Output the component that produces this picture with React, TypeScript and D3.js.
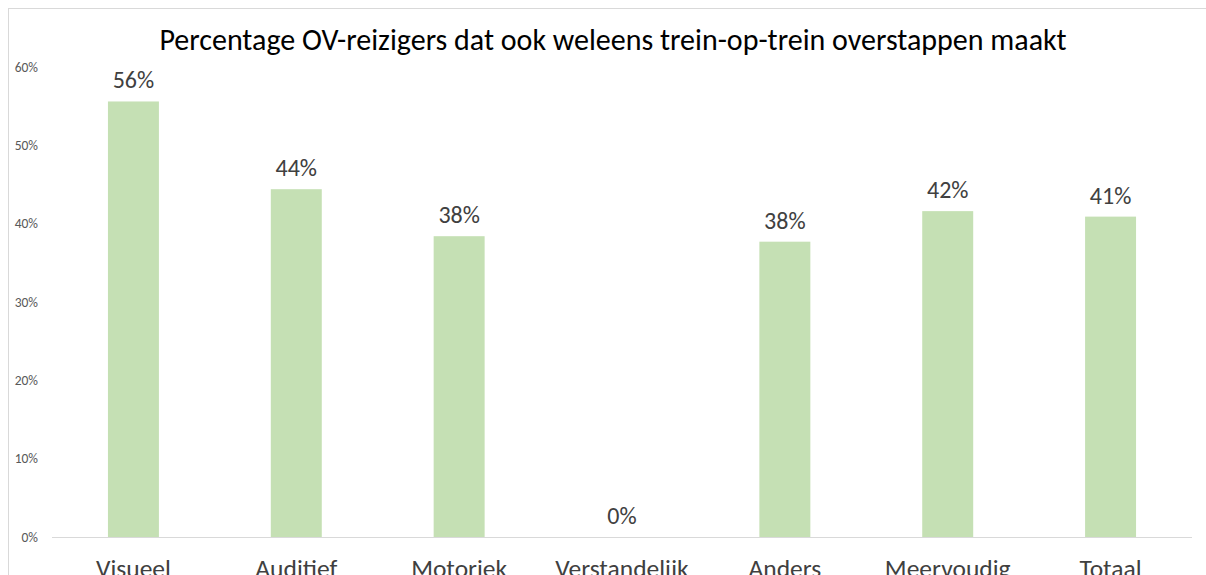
import React from "react";
import * as d3 from "d3";

const categories = ["Visueel", "Auditief", "Motoriek", "Verstandelijk", "Anders", "Meervoudig", "Totaal"];
const values = [55.6, 44.4, 38.4, 0, 37.7, 41.6, 40.9];
const labels = ["56%", "44%", "38%", "0%", "38%", "42%", "41%"];
const yTicks = [0, 10, 20, 30, 40, 50, 60];
const title = "Percentage OV-reizigers dat ook weleens trein-op-trein overstappen maakt";

export default function App() {
  const W = 1206, H = 575;
  const left = 52, right = 1192, top = 67, bottom = 537;
  const x = d3.scaleBand<string>().domain(categories).range([left, right]).paddingInner(0.687).paddingOuter(0.3435);
  const y = d3.scaleLinear().domain([0, 60]).range([bottom, top]);
  const font = "Carlito, Calibri, 'Liberation Sans', sans-serif";
  return (
    <svg width={W} height={H} style={{ position: "absolute", left: 0, top: 0, background: "#fff" }} fontFamily={font}>
      <rect x={8.5} y={8.5} width={1300} height={700} fill="#fff" stroke="#d9d9d9" strokeWidth={1} />
      <text x={613} y={50} textAnchor="middle" fontSize={30} fill="#000">{title}</text>
      {yTicks.map(t => (
        <text key={t} x={38} y={y(t) + 4.5} textAnchor="end" fontSize={13.5} fill="#595959">{t}%</text>
      ))}
      {categories.map((c, i) => (
        <g key={c}>
          <rect x={x(c)} y={y(values[i])} width={x.bandwidth()} height={bottom - y(values[i])} fill="#C5E0B4" />
          <text x={x(c)! + x.bandwidth() / 2} y={y(values[i]) - 13} textAnchor="middle" fontSize={24} fill="#404040">{labels[i]}</text>
          <text x={x(c)! + x.bandwidth() / 2} y={577} textAnchor="middle" fontSize={25.5} fill="#404040">{c}</text>
        </g>
      ))}
      <line x1={left} x2={right} y1={bottom + 0.5} y2={bottom + 0.5} stroke="#d9d9d9" strokeWidth={1} />
    </svg>
  );
}
